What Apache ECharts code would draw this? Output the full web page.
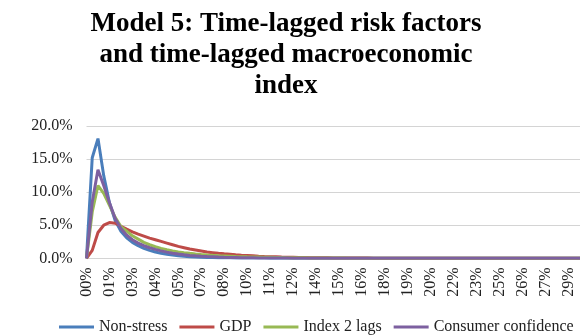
<!DOCTYPE html>
<html>
<head>
<meta charset="utf-8">
<script src="https://cdn.jsdelivr.net/npm/echarts@6/dist/echarts.min.js"></script>
<style>
html,body{margin:0;padding:0;background:#fff;}
#chart{width:580px;height:335px;}
</style>
</head>
<body>
<div id="chart"></div>
<script>
// Category labels (x values rounded to whole percent, as shown in the original)
var categories = ["00%","00%","01%","01%","01%","02%","02%","02%","03%","03%",
  "03%","04%","04%","04%","05%","05%","05%","06%","06%","06%",
  "07%","07%","08%","08%","08%","09%","09%","09%","10%","10%",
  "10%","11%","11%","11%","12%","12%","12%","13%","13%","13%",
  "14%","14%","14%","15%","15%","15%","16%","16%","16%","17%",
  "17%","17%","18%","18%","18%","19%","19%","19%","20%","20%",
  "20%","21%","21%","21%","22%","22%","23%","23%","23%","24%",
  "24%","24%","25%","25%","25%","26%","26%","26%","27%","27%",
  "27%","28%","28%","28%","29%","29%","29%"];

var seriesNames = ["Non-stress", "GDP", "Index 2 lags", "Consumer confidence"];

// values in percent
var nonStress = [0,15.2,18.1,12.5,8.4,5.7,4.1,3.1,2.4,1.9,
  1.5,1.2,0.95,0.75,0.6,0.48,0.38,0.3,0.25,0.2,
  0.16,0.13,0.11,0.09,0.08,0.07,0.06,0.05,0.04,0.04,
  0.03,0.03,0.02,0.02,0.02,0.01,0.01,0.01,0.01,0.01,
  0.01,0.01,0.01,0.01,0.01,0.01,0,0,0,0,
  0,0,0,0,0,0,0,0,0,0,
  0,0,0,0,0,0,0,0,0,0,
  0,0,0,0,0,0,0,0,0,0,
  0,0,0,0,0,0,0];

var gdp = [0,1.2,3.9,5.0,5.4,5.3,4.85,4.4,4.0,3.65,
  3.35,3.05,2.8,2.55,2.3,2.05,1.8,1.6,1.4,1.25,
  1.1,0.95,0.85,0.75,0.67,0.6,0.53,0.47,0.42,0.37,
  0.32,0.28,0.25,0.22,0.19,0.17,0.15,0.13,0.12,0.1,
  0.09,0.08,0.07,0.06,0.06,0.05,0.04,0.04,0.03,0.03,
  0.02,0.02,0.02,0.02,0.01,0.01,0.01,0.01,0.01,0.01,
  0.01,0.01,0.01,0.01,0.01,0.01,0.01,0.01,0,0,
  0,0,0,0,0,0,0,0,0,0,
  0,0,0,0,0,0,0];

var index2Lags = [0,7.0,11.0,9.8,8.0,6.2,4.8,4.1,3.4,2.9,
  2.4,2.05,1.75,1.5,1.3,1.12,0.97,0.85,0.75,0.66,
  0.58,0.51,0.45,0.4,0.36,0.32,0.28,0.25,0.22,0.2,
  0.18,0.16,0.14,0.12,0.11,0.1,0.09,0.08,0.07,0.06,
  0.05,0.05,0.04,0.04,0.03,0.03,0.02,0.02,0.01,0.01,
  0,0,0,0,0,0,0,0,0,0,
  0,0,0,0,0,0,0,0,0,0,
  0,0,0,0,0,0,0,0,0,0,
  0,0,0,0,0,0,0];

var consumerConfidence = [0,8.5,13.4,11.0,8.4,6.0,4.5,3.5,2.8,2.3,
  1.9,1.6,1.35,1.12,0.93,0.77,0.64,0.53,0.44,0.37,
  0.31,0.26,0.22,0.18,0.15,0.13,0.11,0.09,0.08,0.07,
  0.06,0.05,0.04,0.04,0.03,0.03,0.02,0.02,0.02,0.01,
  0.01,0.01,0.01,0.01,0.01,0,0,0,0,0,
  0,0,0,0,0,0,0,0,0,0,
  0,0,0,0,0,0,0,0,0,0,
  0,0,0,0,0,0,0,0,0,0,
  0,0,0,0,0,0,0];

var colors = ["#4A7EBB", "#BE4B48", "#98B954", "#7D60A0"];
var FONT = "'Liberation Serif', 'Times New Roman', serif";

var chart = echarts.init(document.getElementById('chart'), null, {renderer: 'canvas'});

function mkSeries(name, data, color) {
  return {
    name: name, type: 'line', data: data, showSymbol: false, symbol: 'none',
    lineStyle: {width: 3, color: color}, itemStyle: {color: color},
    animation: false
  };
}

chart.setOption({
  animation: false,
  backgroundColor: '#ffffff',
  title: {
    text: 'Model 5: Time-lagged risk factors\nand time-lagged macroeconomic\nindex',
    left: 286, top: 8.5, padding: 0, textAlign: 'center',
    textStyle: {fontFamily: FONT, fontWeight: 'bold', fontSize: 27, lineHeight: 31, color: '#000', align: 'center'}
  },
  legend: {
    data: seriesNames,
    left: 54, top: 314, width: 540,
    icon: 'rect', itemWidth: 35, itemHeight: 3, itemGap: 12,
    textStyle: {fontFamily: FONT, fontSize: 16, color: '#222'}
  },
  grid: {left: 86.5, top: 126, right: -2, bottom: 76.7, containLabel: false},
  xAxis: {
    type: 'category', data: categories, boundaryGap: false,
    axisLine: {show: true, lineStyle: {color: '#D4D4D4', width: 1}},
    axisTick: {show: false},
    axisLabel: {interval: 3, rotate: 90, margin: 9, fontFamily: FONT, fontSize: 16, color: '#222'},
    splitLine: {show: false}
  },
  yAxis: {
    type: 'value', min: 0, max: 20, interval: 5,
    axisLine: {show: false}, axisTick: {show: false},
    axisLabel: {margin: 14, fontFamily: FONT, fontSize: 16, color: '#222',
      formatter: function (v) { return v.toFixed(1) + '%'; }},
    splitLine: {lineStyle: {color: '#D4D4D4', width: 1}}
  },
  series: [
    mkSeries(seriesNames[0], nonStress, colors[0]),
    mkSeries(seriesNames[1], gdp, colors[1]),
    mkSeries(seriesNames[2], index2Lags, colors[2]),
    mkSeries(seriesNames[3], consumerConfidence, colors[3])
  ]
});
</script>
</body>
</html>
